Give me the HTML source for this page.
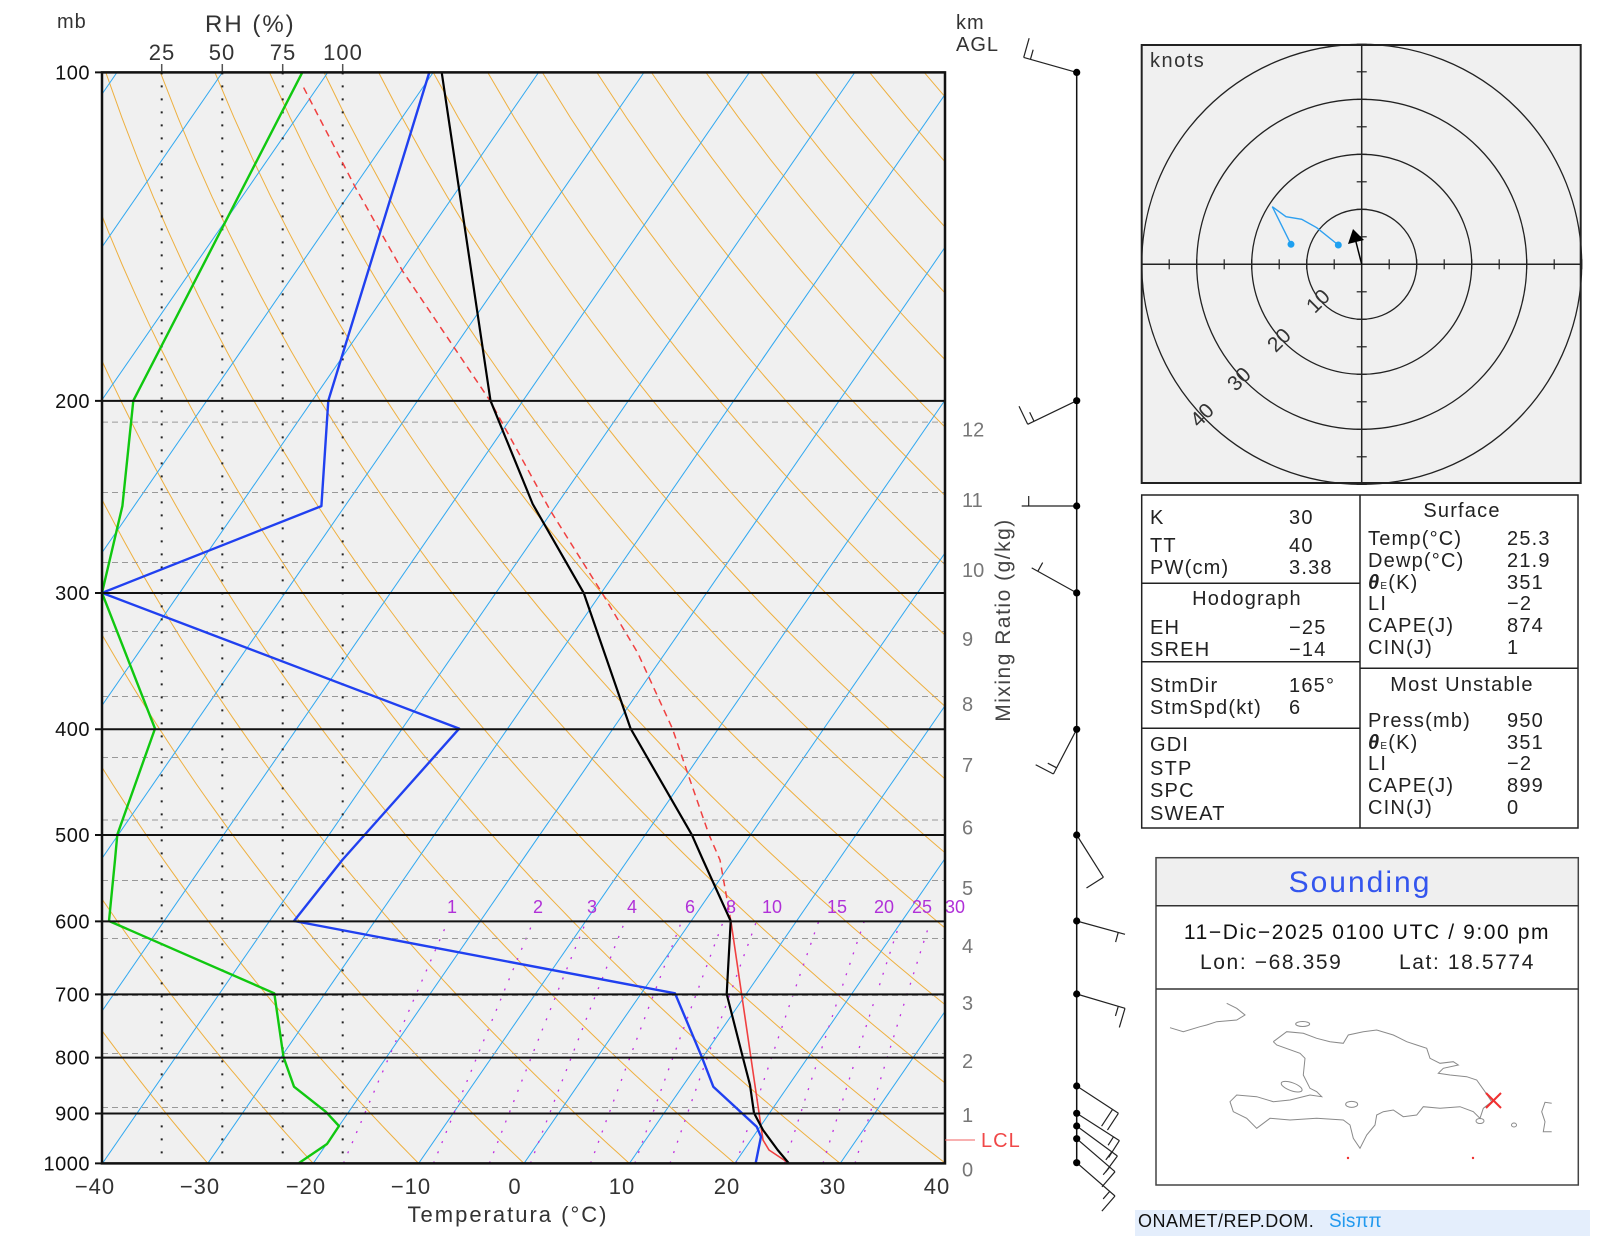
<!DOCTYPE html>
<html><head><meta charset="utf-8">
<style>
html,body{margin:0;padding:0;background:#fff;}
svg{display:block;}
text{font-family:"Liberation Sans",sans-serif;}
</style></head>
<body>
<svg id="s" xmlns="http://www.w3.org/2000/svg" width="1600" height="1236" viewBox="0 0 1600 1236">
<defs><clipPath id="pc"><rect x="102" y="72.4" width="843" height="1091"/></clipPath></defs>
<rect x="0" y="0" width="1600" height="1236" fill="#fff"/>
<rect x="102" y="72.4" width="843" height="1091" fill="#f0f0f0"/>
<g id="grid" clip-path="url(#pc)"></g>
<g id="prof" clip-path="url(#pc)"></g>
<g id="over"></g>

<text x="57" y="28" font-size="20" fill="#333" letter-spacing="1">mb</text>
<text x="205" y="32" font-size="24" fill="#333" letter-spacing="2">RH (%)</text>
<g font-size="22" fill="#333" text-anchor="middle" letter-spacing="1">
<text x="162" y="60">25</text><text x="222" y="60">50</text><text x="283" y="60">75</text><text x="343" y="60">100</text>
</g>
<text x="956" y="29" font-size="20" fill="#333" letter-spacing="1">km</text>
<text x="956" y="51" font-size="20" fill="#333" letter-spacing="1">AGL</text>
<text transform="translate(1010,620) rotate(-90)" font-size="21" fill="#444" text-anchor="middle" letter-spacing="1.5">Mixing Ratio (g/kg)</text>
<g font-size="22" fill="#333" text-anchor="middle" letter-spacing="1">
<text x="95" y="1194">−40</text><text x="200" y="1194">−30</text><text x="306" y="1194">−20</text><text x="411" y="1194">−10</text><text x="515" y="1194">0</text><text x="622" y="1194">10</text><text x="727" y="1194">20</text><text x="833" y="1194">30</text><text x="937" y="1194">40</text>
<text x="508" y="1222" letter-spacing="2">Temperatura (°C)</text>
</g>
<line x1="945" y1="1140" x2="975" y2="1140" stroke="#f06060" stroke-width="1"/>
<text x="981" y="1147" font-size="20" fill="#f04848" letter-spacing="1">LCL</text>

<rect x="1141.7" y="45" width="439" height="438" fill="#f0f0f0" stroke="#222" stroke-width="2"/>
<g id="hodo"></g>
<text x="1150" y="67" font-size="20" fill="#333" letter-spacing="1.5">knots</text>

<g stroke="#222" stroke-width="1.5" fill="none">
<rect x="1141.7" y="495" width="436.3" height="333"/>
<line x1="1360" y1="495" x2="1360" y2="828"/>
<line x1="1141.7" y1="583.3" x2="1360" y2="583.3"/>
<line x1="1141.7" y1="661.7" x2="1360" y2="661.7"/>
<line x1="1141.7" y1="728.3" x2="1360" y2="728.3"/>
<line x1="1360" y1="668.3" x2="1578" y2="668.3"/>
</g>
<g font-size="20" fill="#222" letter-spacing="1.2">
<text x="1150" y="524">K</text><text x="1289" y="524">30</text>
<text x="1150" y="552">TT</text><text x="1289" y="552">40</text>
<text x="1150" y="574">PW(cm)</text><text x="1289" y="574">3.38</text>
<text x="1247" y="605" text-anchor="middle">Hodograph</text>
<text x="1150" y="634">EH</text><text x="1289" y="634">−25</text>
<text x="1150" y="656">SREH</text><text x="1289" y="656">−14</text>
<text x="1150" y="692">StmDir</text><text x="1289" y="692">165°</text>
<text x="1150" y="714">StmSpd(kt)</text><text x="1289" y="714">6</text>
<text x="1150" y="751">GDI</text>
<text x="1150" y="775">STP</text>
<text x="1150" y="797">SPC</text>
<text x="1150" y="820">SWEAT</text>
<text x="1462" y="517" text-anchor="middle">Surface</text>
<text x="1368" y="545">Temp(°C)</text><text x="1507" y="545">25.3</text>
<text x="1368" y="567">Dewp(°C)</text><text x="1507" y="567">21.9</text>
<text x="1368" y="589"><tspan font-style="italic" font-weight="bold">θ</tspan><tspan font-size="10">E</tspan>(K)</text><text x="1507" y="589">351</text>
<text x="1368" y="610">LI</text><text x="1507" y="610">−2</text>
<text x="1368" y="632">CAPE(J)</text><text x="1507" y="632">874</text>
<text x="1368" y="654">CIN(J)</text><text x="1507" y="654">1</text>
<text x="1462" y="691" text-anchor="middle">Most Unstable</text>
<text x="1368" y="727">Press(mb)</text><text x="1507" y="727">950</text>
<text x="1368" y="749"><tspan font-style="italic" font-weight="bold">θ</tspan><tspan font-size="10">E</tspan>(K)</text><text x="1507" y="749">351</text>
<text x="1368" y="770">LI</text><text x="1507" y="770">−2</text>
<text x="1368" y="792">CAPE(J)</text><text x="1507" y="792">899</text>
<text x="1368" y="814">CIN(J)</text><text x="1507" y="814">0</text>
</g>

<rect x="1156" y="857.7" width="422.3" height="48" fill="#efefef"/>
<rect x="1156" y="857.7" width="422.3" height="327.3" fill="none" stroke="#444" stroke-width="1.5"/>
<line x1="1156" y1="905.7" x2="1578.3" y2="905.7" stroke="#333" stroke-width="1.5"/>
<line x1="1156" y1="989" x2="1578.3" y2="989" stroke="#333" stroke-width="1.5"/>
<text x="1360" y="892" font-size="30" fill="#3355ee" text-anchor="middle" letter-spacing="2">Sounding</text>
<text x="1367" y="939" font-size="21" fill="#111" text-anchor="middle" letter-spacing="1.6">11−Dic−2025 0100 UTC / 9:00 pm</text>
<text x="1200" y="969" font-size="21" fill="#222" letter-spacing="1.6">Lon: −68.359</text>
<text x="1399" y="969" font-size="21" fill="#222" letter-spacing="1.6">Lat: 18.5774</text>
<g id="map" fill="none" stroke="#8a8a8a" stroke-width="1"></g>
<g stroke="#f03030" stroke-width="2"><line x1="1486" y1="1093" x2="1501" y2="1108"/><line x1="1501" y1="1093" x2="1486" y2="1108"/></g>
<circle cx="1348" cy="1158" r="1.2" fill="#f03030"/><circle cx="1473" cy="1158" r="1.2" fill="#f03030"/>

<rect x="1135" y="1210" width="455" height="26" fill="#e4eefc"/>
<text x="1138" y="1227" font-size="18" fill="#111" letter-spacing="0.5">ONAMET/REP.DOM.</text>
<text x="1329" y="1227" font-size="19" fill="#2299ee">Sisππ</text>
</svg>
<script>
(function(){
const NS="http://www.w3.org/2000/svg";
function el(p,tag,a,txt){const e=document.createElementNS(NS,tag);for(const k in a)e.setAttribute(k,a[k]);if(txt!==undefined)e.textContent=txt;p.appendChild(e);return e;}
const Y=p=>72.4+1091*Math.log10(p/100);
const X=(T,y)=>524+10.54*T+(1163.4-y)/1.45;
const grid=document.getElementById('grid'), prof=document.getElementById('prof'), over=document.getElementById('over');
for(let th=-40;th<=260;th+=10){let pts=[];for(let p=1000;p>=100;p-=10){const y=Y(p);const T=(th+273.15)*Math.pow(p/1000,0.286)-273.15;pts.push(X(T,y).toFixed(1)+','+y.toFixed(1));}
el(grid,'polyline',{points:pts.join(' '),fill:'none',stroke:'#eeb040','stroke-width':1});}
for(let T=-170;T<=40;T+=10){el(grid,'line',{x1:X(T,1163.4),y1:1163.4,x2:X(T,72.4),y2:72.4,stroke:'#30a8f0','stroke-width':1});}
const ws=[1,2,3,4,6,8,10,15,20,25,30];
for(const w of ws){let pts=[];for(let p=1000;p>=600;p-=10){const es=w*p/(622+w);const l=Math.log(es/6.112);const T=243.5*l/(17.67-l);const y=Y(p);pts.push(X(T,y).toFixed(1)+','+y.toFixed(1));}
el(grid,'polyline',{points:pts.join(' '),fill:'none',stroke:'#c030e0','stroke-width':1.3,'stroke-dasharray':'2,9'});}
const km=[1115,1061,1003,946,888,827.5,765,704,639,570,500,429.6];
km.forEach(v=>el(grid,'line',{x1:102,x2:945,y1:v-7.5,y2:v-7.5,stroke:'#999','stroke-width':1,'stroke-dasharray':'6,4'}));
[161.7,222.3,282.7,342.7].forEach(x=>el(grid,'line',{x1:x,x2:x,y1:72.4,y2:1163.4,stroke:'#222','stroke-width':2,'stroke-dasharray':'2,11'}));
const ps=[100,200,300,400,500,600,700,800,900,1000];
ps.forEach(p=>{const y=Y(p);el(over,'line',{x1:95,x2:945,y1:y,y2:y,stroke:'#111','stroke-width':2});
el(over,'text',{x:90,y:y+7,'font-size':20,fill:'#111','text-anchor':'end','letter-spacing':'0.5'},String(p));});
[161.7,222.3,282.7,342.7].forEach(x=>el(over,'line',{x1:x,x2:x,y1:64,y2:72,stroke:'#555','stroke-width':1.5}));
const mx=[452,538,592,632,690,731,772,837,884,922,955];
ws.forEach((w,i)=>el(over,'text',{x:mx[i],y:913,'font-size':18,fill:'#b030d8','text-anchor':'middle'},String(w)));
const kmy=[1169.5].concat(km);
kmy.forEach((v,i)=>el(over,'text',{x:962,y:v+7,'font-size':20,fill:'#777'},String(i)));
function pl(pts,col,w,dash){const a={points:pts.map(p=>p.join(',')).join(' '),fill:'none',stroke:col,'stroke-width':w,'stroke-linejoin':'round'};if(dash)a['stroke-dasharray']=dash;el(prof,'polyline',a);}
pl([[788.6,1163],[769,1150],[763,1140],[731,921.7]],'#f04040',1.6);
pl([[731,921.7],[720,860],[709,834.7],[690,780],[672.4,728.6],[637.8,653],[602,592.9],[550,510],[490,400.7],[403,271.7],[355,186.7],[302.3,85]],'#f04040',1.5,'7,5');
pl([[788.6,1163],[777.7,1150],[763,1130],[754,1113],[750,1085],[743,1058],[726.7,994],[730.7,921],[703,860],[691.8,834.7],[630.6,728.6],[583.7,592.9],[532.7,504],[490.5,400.7],[441.7,72.4]],'#000',2.2);
pl([[755.7,1163],[761,1136.7],[756.7,1126.7],[713.3,1086.7],[701.7,1056.7],[675,993.3],[294,921],[342.3,860],[459.2,728.6],[102,592.9],[321.4,506.1],[328.3,400.7],[429.3,72.4]],'#2040f0',2.4);
pl([[299,1163],[327,1144],[339,1126],[325.7,1111.7],[294,1086.7],[283.5,1057],[274.3,993.3],[109,921],[115,860],[117.3,834.7],[155,728.6],[102,592.9],[122.4,506],[133.3,400.7],[302.3,72.4]],'#10c810',2.4);
el(over,'rect',{x:102,y:72.4,width:843,height:1091,fill:'none',stroke:'#111','stroke-width':2.5});
const cx=1076.7;
el(over,'line',{x1:cx,x2:cx,y1:72.4,y2:1163,stroke:'#111','stroke-width':1.5});
const bs=[[72.4,-53,-15,1,1],[400.7,-49,23.6,1,1],[506,-55,0,0,1],[592.9,-45,-25,0,1],[729.3,-23.3,44.7,1,1],[835,26.7,42.3,1,0],[921,48.3,13.3,0,1],[994,48.3,14.3,1,1],[1086,41.7,27.3,2,0],[1113.3,42.7,27.3,1,1],[1126,40.7,30,1,1],[1138.7,38.3,33,1,1],[1162.7,38.3,33.3,1,1]];
bs.forEach(b=>{const[y,dx,dy,f,h]=b;const L=Math.hypot(dx,dy),ux=dx/L,uy=dy/L,rx=-uy,ry=ux;const ex=cx+dx,ey=y+dy;
el(over,'line',{x1:cx,y1:y,x2:ex,y2:ey,stroke:'#222','stroke-width':1.2});
let k=0;for(let i=0;i<f;i++,k++){const sx=ex-ux*7*k,sy=ey-uy*7*k;el(over,'line',{x1:sx,y1:sy,x2:sx+rx*20,y2:sy+ry*20,stroke:'#222','stroke-width':1.2});}
if(h){if(k===0)k=1;const sx=ex-ux*7*k,sy=ey-uy*7*k;el(over,'line',{x1:sx,y1:sy,x2:sx+rx*10,y2:sy+ry*10,stroke:'#222','stroke-width':1.2});}
el(over,'circle',{cx:cx,cy:y,r:3.6,fill:'#000'});});
const hd=document.getElementById('hodo');const hx=1361.7,hy=264.3;
[55,110,165,220].forEach(r=>el(hd,'circle',{cx:hx,cy:hy,r:r,fill:'none',stroke:'#222','stroke-width':1.3}));
el(hd,'line',{x1:1141.7,x2:1580.7,y1:hy,y2:hy,stroke:'#222','stroke-width':1.5});
el(hd,'line',{x1:hx,x2:hx,y1:45,y2:483,stroke:'#222','stroke-width':1.5});
for(let i=-8;i<=8;i++){if(!i)continue;const d=i*27.5;el(hd,'line',{x1:hx+d,x2:hx+d,y1:hy-5,y2:hy+5,stroke:'#222','stroke-width':1.2});el(hd,'line',{y1:hy+d,y2:hy+d,x1:hx-5,x2:hx+5,stroke:'#222','stroke-width':1.2});}
[['10',1323,306],['20',1284,345],['30',1244,384],['40',1207,420]].forEach(t=>el(hd,'text',{x:t[1],y:t[2],'font-size':21,fill:'#333','text-anchor':'middle',transform:'rotate(-45 '+t[1]+' '+t[2]+')'},t[0]));
el(hd,'polyline',{points:'1338.3,245 1316.7,227.7 1301.7,219.3 1286,216.7 1272.3,206.7 1291,244.3',fill:'none',stroke:'#2ea0f0','stroke-width':1.4});
el(hd,'circle',{cx:1338.3,cy:245,r:3.5,fill:'#1ea0f0'});el(hd,'circle',{cx:1291,cy:244.3,r:3.5,fill:'#1ea0f0'});
el(hd,'line',{x1:hx,y1:hy,x2:1355,y2:238,stroke:'#000','stroke-width':1.5});
el(hd,'polygon',{points:'1353,229 1348,244 1364,240',fill:'#000'});
const mp=document.getElementById('map');
function mpl(a){el(mp,'polyline',{points:a.map((v,i)=>i%2?(845+v/3).toFixed(1):(1130+v/3).toFixed(1)).reduce((s,v,i)=>s+(i%2?','+v+' ':v),'')});}
mpl([430,590,470,560,520,565,560,580,600,590,640,595,655,570,700,560,740,555,790,570,830,590,860,600,890,610,900,640,930,655,970,650,985,660,940,670,925,685,960,690,1010,695,1040,705,1065,740,1085,770,1060,790,1050,820,1030,800,990,785,930,790,880,785,860,810,820,815,790,795,760,800,740,810,735,840,710,870,690,910,670,880,660,840,640,825,560,820,480,825,420,820,380,850,350,820,310,800,300,770,320,750,380,755,430,770,480,765,540,750,575,755,560,740,540,730,520,690,525,640,510,625,440,600,430,590]);
mpl([120,548,160,560,210,545,230,540,260,530,320,525,345,510,320,490,290,475]);
mpl([1265,775,1245,772,1235,800,1245,830,1240,860,1265,860]);
el(mp,'ellipse',{cx:1130+485/3,cy:845+725/3,rx:11,ry:4,transform:'rotate(20 '+(1130+485/3)+' '+(845+725/3)+')'});
el(mp,'ellipse',{cx:1130+665/3,cy:845+778/3,rx:6,ry:3});
el(mp,'ellipse',{cx:1130+518/3,cy:845+537/3,rx:7,ry:2.5});
el(mp,'ellipse',{cx:1130+1050/3,cy:845+828/3,rx:4,ry:2.5});
el(mp,'ellipse',{cx:1130+1152/3,cy:845+840/3,rx:2.5,ry:2});
})();
</script>
</body></html>
